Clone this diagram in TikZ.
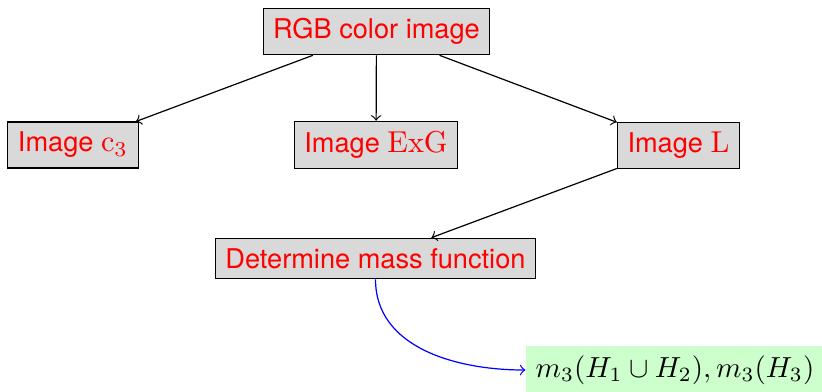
\documentclass[tikz,border=0pt]{standalone}
\usepackage{fontspec}
\setsansfont[Scale=0.9]{TeX Gyre Heros}
\begin{document}
\begin{tikzpicture}[x=0.331pt,y=-0.331pt,
  box/.style={draw=black, fill=gray!30, text=red, font=\sffamily},
  res/.style={fill=green!20, text=black, scale=0.96, transform shape},
  link/.style={->, black},
  flow/.style={->, blue}]
\useasboundingbox (0,0) rectangle (822,391);
\node[box] (rgb) at (376.5,31.5) {RGB color image};
\node[box] (c3) at (73,145) {Image $\mathrm{c}_3$};
\node[box] (exg) at (376,145) {Image $\mathrm{ExG}$};
\node[box] (L) at (678.5,145.5) {Image $\mathrm{L}$};
\node[box] (det) at (375.5,258.5) {Determine mass function};
\node[res] (m3) at (675,370) {$m_3(H_1\cup H_2),m_3(H_3)$};
\draw[link] (rgb) -- (c3);
\draw[link] (rgb) -- (exg);
\draw[link] (rgb) -- (L);
\draw[link] (L) -- (det);
\draw[flow] (det) to[out=-90,in=180] (m3);
\end{tikzpicture}
\end{document}
